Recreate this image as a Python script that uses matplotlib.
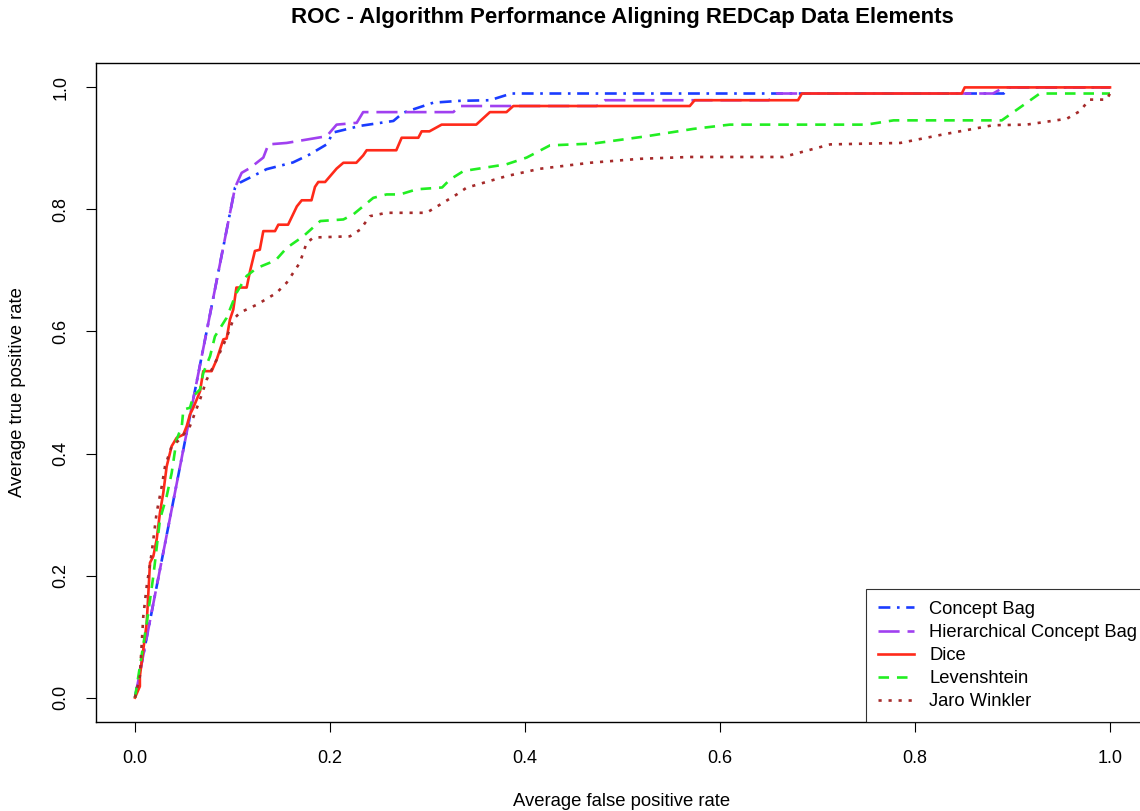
import matplotlib
matplotlib.use('Agg')
import matplotlib.pyplot as plt

plt.rcParams['font.family'] = ['Liberation Sans', 'DejaVu Sans']

# averaged ROC points
cb_fpr = [0, 0.05, 0.1026, 0.1077, 0.135, 0.162, 0.179, 0.197, 0.203, 0.231, 0.265,
          0.275, 0.306, 0.333, 0.364, 0.386, 0.891, 0.896, 1.0]
cb_tpr = [0, 0.41, 0.836, 0.844, 0.866, 0.877, 0.890, 0.907, 0.926, 0.937, 0.945,
          0.9585, 0.975, 0.978, 0.979, 0.99, 0.99, 1.0, 1.0]

hcb_fpr = [0, 0.05, 0.1026, 0.1094, 0.118, 0.1316, 0.1368, 0.1556, 0.1966, 0.2068, 0.2274,
           0.234, 0.3265, 0.333, 0.4735, 0.482, 0.650, 0.658, 0.880, 0.891, 1.0]
hcb_tpr = [0, 0.41, 0.836, 0.860, 0.868, 0.885, 0.9066, 0.909, 0.920, 0.939, 0.942,
           0.9595, 0.9595, 0.9695, 0.9695, 0.979, 0.979, 0.99, 0.99, 1.0, 1.0]

dice_fpr = [0, 0.005, 0.005, 0.012, 0.0154, 0.0188, 0.0222, 0.0256, 0.029, 0.0325, 0.0359,
            0.0376, 0.0427, 0.0496, 0.053, 0.0564, 0.0598, 0.0633, 0.0667, 0.070, 0.0786,
            0.0838, 0.0906, 0.094, 0.0974, 0.1008, 0.104, 0.1145, 0.118, 0.123, 0.128,
            0.1316, 0.1436, 0.147, 0.157, 0.166, 0.171, 0.181, 0.1846, 0.188, 0.195,
            0.2068, 0.2137, 0.227, 0.234, 0.2376, 0.268, 0.2735, 0.2906, 0.294, 0.302,
            0.3145, 0.350, 0.364, 0.381, 0.388, 0.569, 0.574, 0.680, 0.684, 0.848, 0.851, 1.0]
dice_tpr = [0, 0.0185, 0.035, 0.122, 0.221, 0.2316, 0.259, 0.303, 0.3355, 0.379, 0.401,
            0.412, 0.4257, 0.431, 0.4447, 0.464, 0.475, 0.4885, 0.502, 0.535, 0.535,
            0.554, 0.587, 0.5885, 0.6197, 0.636, 0.672, 0.672, 0.699, 0.732, 0.734,
            0.7645, 0.7645, 0.775, 0.775, 0.805, 0.815, 0.815, 0.837, 0.845, 0.845,
            0.867, 0.8765, 0.8765, 0.8885, 0.897, 0.897, 0.9175, 0.9175, 0.928, 0.928,
            0.939, 0.939, 0.9595, 0.9595, 0.9695, 0.9695, 0.979, 0.979, 0.99, 0.99, 1.0, 1.0]

lev_fpr = [0, 0.012, 0.0188, 0.0256, 0.0325, 0.0376, 0.0427, 0.048, 0.0496, 0.0564, 0.0598,
           0.0667, 0.070, 0.077, 0.082, 0.094, 0.104, 0.1145, 0.125, 0.138, 0.145, 0.1556,
           0.1726, 0.190, 0.2137, 0.224, 0.2444, 0.258, 0.2718, 0.289, 0.315, 0.323, 0.337,
           0.381, 0.4017, 0.4256, 0.470, 0.5248, 0.5726, 0.610, 0.750, 0.778, 0.889, 0.928, 1.0]
lev_tpr = [0, 0.122, 0.199, 0.292, 0.330, 0.368, 0.423, 0.4447, 0.472, 0.475, 0.494,
           0.505, 0.532, 0.5595, 0.592, 0.6225, 0.663, 0.691, 0.704, 0.7125, 0.718, 0.737,
           0.756, 0.781, 0.7836, 0.792, 0.819, 0.8246, 0.8246, 0.833, 0.836, 0.849, 0.863,
           0.874, 0.885, 0.905, 0.908, 0.920, 0.932, 0.939, 0.939, 0.946, 0.946, 0.99, 0.99]

jw_fpr = [0, 0.005, 0.0085, 0.012, 0.0171, 0.0222, 0.0274, 0.0308, 0.0376, 0.046, 0.0564,
          0.0667, 0.0735, 0.0838, 0.094, 0.1008, 0.1077, 0.125, 0.145, 0.1556, 0.169, 0.176,
          0.183, 0.2205, 0.231, 0.241, 0.258, 0.299, 0.313, 0.330, 0.340, 0.381, 0.415,
          0.4667, 0.518, 0.569, 0.665, 0.713, 0.785, 0.829, 0.880, 0.9145, 0.9556, 0.969,
          0.979, 0.9966, 1.0]
jw_tpr = [0, 0.035, 0.133, 0.1825, 0.237, 0.303, 0.346, 0.379, 0.412, 0.423, 0.445,
          0.4885, 0.521, 0.554, 0.590, 0.6197, 0.631, 0.644, 0.663, 0.680, 0.7125, 0.745,
          0.754, 0.756, 0.767, 0.789, 0.7945, 0.7945, 0.808, 0.8246, 0.8356, 0.8546, 0.8666,
          0.8765, 0.883, 0.886, 0.886, 0.9066, 0.909, 0.923, 0.938, 0.939, 0.9486, 0.961,
          0.980, 0.980, 0.99]

ticks = [0.0, 0.2, 0.4, 0.6, 0.8, 1.0]
tick_labels = ['0.0', '0.2', '0.4', '0.6', '0.8', '1.0']

fig = plt.figure(figsize=(11.4, 8.11), dpi=100)
ax = fig.add_axes([96 / 1140, 89 / 811, 1053 / 1140, 659 / 811])

lw = 1.9
ax.plot(cb_fpr, cb_tpr, color='#1a3cff', lw=lw, dashes=(4.5, 2.5, 1, 2.5), label='Concept Bag')
ax.plot(hcb_fpr, hcb_tpr, color='#a040f0', lw=lw, dashes=(8, 3), label='Hierarchical Concept Bag')
ax.plot(dice_fpr, dice_tpr, color='#ff2a1a', lw=lw, label='Dice')
ax.plot(lev_fpr, lev_tpr, color='#22ee22', lw=lw, dashes=(4, 3), label='Levenshtein')
ax.plot(jw_fpr, jw_tpr, color='#a52a2a', lw=lw, dashes=(1.2, 2.6), label='Jaro Winkler')

ax.set_xlim(-0.04, 1.04)
ax.set_ylim(-0.04, 1.04)
ax.set_xticks(ticks)
ax.set_xticklabels(tick_labels)
ax.set_yticks(ticks)
ax.set_yticklabels(tick_labels, rotation=90, va='center')
ax.tick_params(direction='out', length=7, width=0.8, labelsize=13)
ax.tick_params(axis='x', pad=13)
ax.tick_params(axis='y', pad=12)
for s in ax.spines.values():
    s.set_linewidth(1.0)

leg = ax.legend(loc='lower right', fontsize=13.2, frameon=True, fancybox=False,
                borderaxespad=0, handlelength=2.0, handletextpad=0.8,
                labelspacing=0.33, borderpad=0.65)
leg.get_frame().set_edgecolor('black')
leg.get_frame().set_linewidth(0.8)

fig.text(622 / 1140, 1 - 18 / 811, 'ROC - Algorithm Performance Aligning REDCap Data Elements',
         ha='center', va='center', fontsize=16, fontweight='bold')
fig.text(622 / 1140, 1 - 801 / 811, 'Average false positive rate',
         ha='center', va='center', fontsize=13.3)
fig.text(18 / 1140, 1 - 392 / 811, 'Average true positive rate',
         ha='center', va='center', fontsize=13.3, rotation=90)

fig.savefig('out.png', dpi=100)
